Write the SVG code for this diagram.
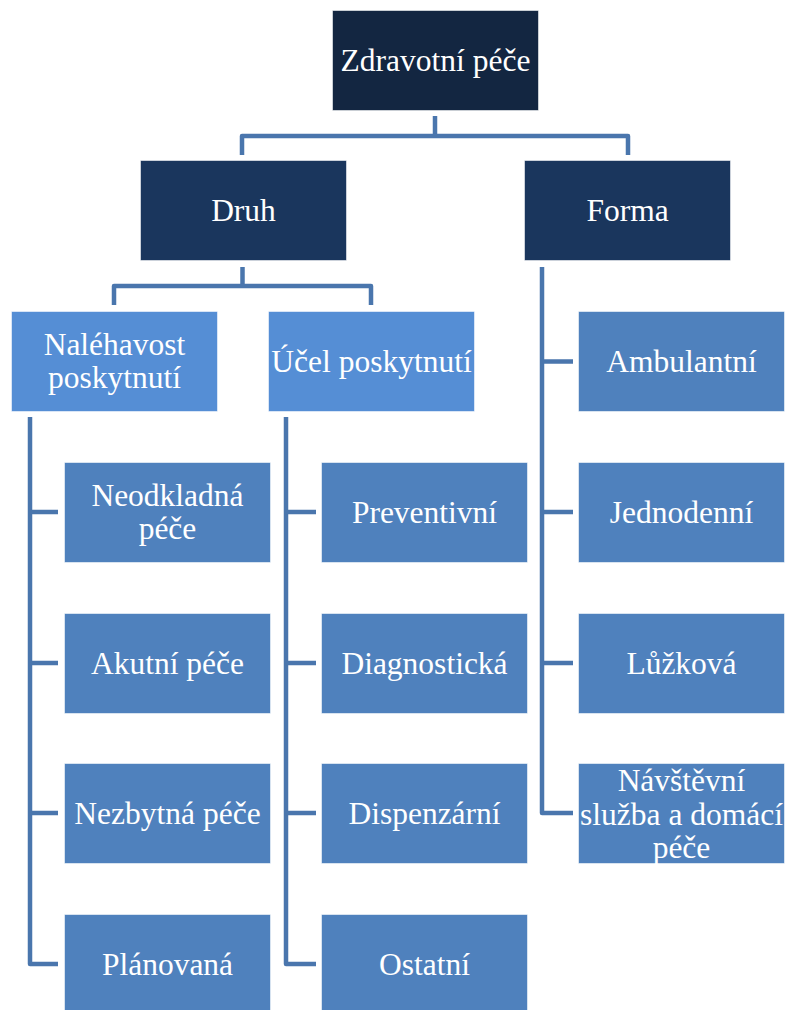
<svg xmlns="http://www.w3.org/2000/svg" width="785" height="1010" viewBox="0 0 785 1010">
<style>
rect{stroke:#ffffff;stroke-opacity:0.55;stroke-width:1}
.r0{fill:#132641}
.r1{fill:#1a365d}
.r2{fill:#558ed5}
.r3{fill:#4f81bd}
text{font-family:'Liberation Serif',Tinos,'Times New Roman','DejaVu Serif',serif;font-size:31.5px;fill:#ffffff;text-anchor:middle}
.c{fill:none;stroke:#4a76ad;stroke-width:4.5;stroke-linejoin:round;stroke-linecap:butt}
</style>
<rect width="785" height="1010" fill="#ffffff" stroke="none"/>
<g id="connectors">
<path class="c" d="M435,116 V136"/>
<path class="c" d="M242,155 V136 H628 V155"/>
<path class="c" d="M242.5,267 V286"/>
<path class="c" d="M114,305 V286 H371 V305"/>
<path class="c" d="M30,417 V964 H58"/>
<path class="c" d="M30,512 H58 M30,663 H58 M30,813 H58"/>
<path class="c" d="M286,417 V964 H316"/>
<path class="c" d="M286,512 H316 M286,663 H316 M286,813 H316"/>
<path class="c" d="M542,267 V813 H573"/>
<path class="c" d="M542,361.5 H573 M542,512 H573 M542,663 H573"/>
</g>
<g id="n-zdravotni"><rect class="r0" x="332.5" y="10.5" width="206" height="100"/><text x="435.5" y="71">Zdravotní péče</text></g>
<g id="n-druh"><rect class="r1" x="140.5" y="160.5" width="206" height="100"/><text x="243.5" y="221">Druh</text></g>
<g id="n-forma"><rect class="r1" x="524.5" y="160.5" width="206" height="100"/><text x="627.5" y="221">Forma</text></g>
<g id="n-nalehavost"><rect class="r2" x="11.5" y="311.5" width="206" height="100"/><text x="114.5" y="355">Naléhavost</text><text x="114.5" y="388">poskytnutí</text></g>
<g id="n-ucel"><rect class="r2" x="268.5" y="311.5" width="206" height="100"/><text x="371.5" y="372">Účel poskytnutí</text></g>
<g id="n-neodkladna"><rect class="r3" x="64.5" y="462.5" width="206" height="100"/><text x="167.5" y="506">Neodkladná</text><text x="167.5" y="539">péče</text></g>
<g id="n-akutni"><rect class="r3" x="64.5" y="613.5" width="206" height="100"/><text x="167.5" y="674">Akutní péče</text></g>
<g id="n-nezbytna"><rect class="r3" x="64.5" y="763.5" width="206" height="100"/><text x="167.5" y="824">Nezbytná péče</text></g>
<g id="n-planovana"><rect class="r3" x="64.5" y="914.5" width="206" height="100"/><text x="167.5" y="975">Plánovaná</text></g>
<g id="n-preventivni"><rect class="r3" x="321.5" y="462.5" width="206" height="100"/><text x="424.5" y="523">Preventivní</text></g>
<g id="n-diagnosticka"><rect class="r3" x="321.5" y="613.5" width="206" height="100"/><text x="424.5" y="674">Diagnostická</text></g>
<g id="n-dispenzarni"><rect class="r3" x="321.5" y="763.5" width="206" height="100"/><text x="424.5" y="824">Dispenzární</text></g>
<g id="n-ostatni"><rect class="r3" x="321.5" y="914.5" width="206" height="100"/><text x="424.5" y="975">Ostatní</text></g>
<g id="n-ambulantni"><rect class="r3" x="578.5" y="311.5" width="206" height="100"/><text x="681.5" y="372">Ambulantní</text></g>
<g id="n-jednodenni"><rect class="r3" x="578.5" y="462.5" width="206" height="100"/><text x="681.5" y="523">Jednodenní</text></g>
<g id="n-luzkova"><rect class="r3" x="578.5" y="613.5" width="206" height="100"/><text x="681.5" y="674">Lůžková</text></g>
<g id="n-navstevni"><rect class="r3" x="578.5" y="763.5" width="206" height="100"/><text x="681.5" y="791">Návštěvní</text><text x="681.5" y="824.5">služba a domácí</text><text x="681.5" y="858">péče</text></g>
</svg>
